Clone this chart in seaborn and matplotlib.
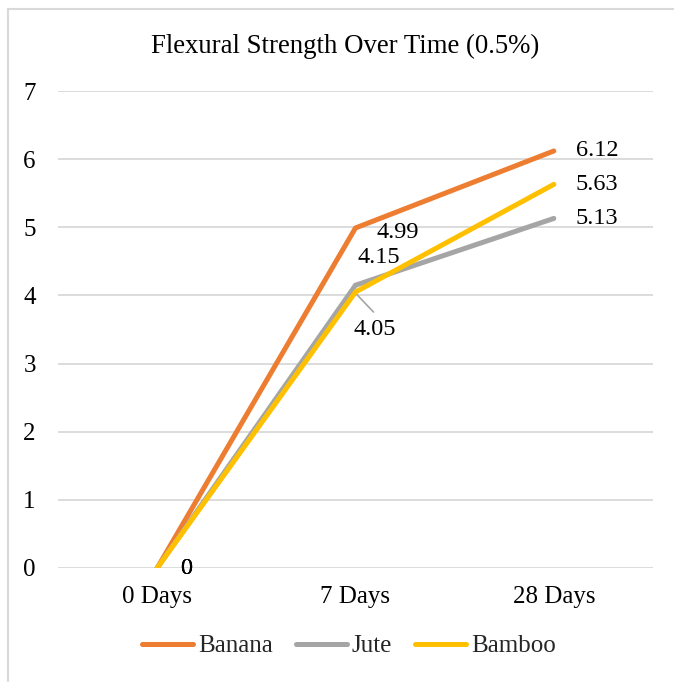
import matplotlib
matplotlib.use("Agg")
import matplotlib.pyplot as plt
import matplotlib.transforms as mtransforms
from matplotlib.lines import Line2D
import seaborn as sns
import pandas as pd

# Chart data
days = ["0 Days", "7 Days", "28 Days"]
banana = [0, 4.99, 6.12]
jute = [0, 4.15, 5.13]
bamboo = [0, 4.05, 5.63]
series_names = ["Banana", "Jute", "Bamboo"]
colors = ["#ED7D31", "#A5A5A5", "#FFC000"]
y_ticks = [0, 1, 2, 3, 4, 5, 6, 7]

df = pd.DataFrame({
    "Age": days * 3,
    "Strength": banana + jute + bamboo,
    "Fibre": [n for n in series_names for _ in days],
})

sns.set_theme(style="white")
plt.rcParams["font.family"] = ["Liberation Serif", "DejaVu Serif"]

W, H = 674, 682
fig = plt.figure(figsize=(W / 100, H / 100), dpi=100)
ax = fig.add_axes([58 / W, 1 - 568 / H, (653 - 58) / W, (568 - 91) / H])

sns.lineplot(data=df, x="Age", y="Strength", hue="Fibre", hue_order=series_names,
             palette=colors, sort=False, linewidth=3.6, ax=ax, legend=False,
             solid_capstyle="round", solid_joinstyle="miter")

ax.set_xlim(-0.5, 2.5)
ax.set_ylim(0, 7)
ax.set_yticks(y_ticks)
ax.set_yticklabels([str(t) for t in y_ticks])
ax.set_xlabel("")
ax.set_ylabel("")
for s in ax.spines.values():
    s.set_visible(False)
ax.yaxis.grid(True, color="#D9D9D9", linewidth=1.3)
ax.set_axisbelow(True)
for ln in ax.get_lines():
    ln.set_zorder(3)
ax.tick_params(axis="both", length=0, labelsize=18, colors="black")
ax.tick_params(axis="y", pad=16)
ax.tick_params(axis="x", pad=13)

fig.text(345 / W, 1 - 46 / H, "Flexural Strength Over Time (0.5%)", ha="center",
         va="center", fontsize=19.3, color="black")


def label(x, y, text, dx, dy, ha="left", va="center"):
    """Place a value label at a pixel offset from a data point."""
    tr = mtransforms.offset_copy(ax.transData, fig=fig, x=dx, y=dy, units="dots")
    ax.text(x, y, text, transform=tr, ha=ha, va=va, fontsize=17.5,
            color="black", zorder=5)


# value labels at 0 days
for vals in (banana, jute, bamboo):
    label(0, vals[0], f"{vals[0]:g}", 23, -1)

# value labels at 7 days
label(1, banana[1], f"{banana[1]:.2f}", 21, -5)
label(1, jute[1], f"{jute[1]:.2f}", 2, 28)
label(1, bamboo[1], f"{bamboo[1]:.2f}", -2, -27, va="top")
p0 = ax.transData.transform((1, bamboo[1]))
ax.add_line(Line2D([p0[0] - 2, p0[0] + 18], [p0[1] + 1, p0[1] - 20],
                   transform=None, color="#A5A5A5", linewidth=1.2, zorder=2))

# value labels at 28 days
for vals in (banana, jute, bamboo):
    label(2, vals[2], f"{vals[2]:.2f}", 22, 0)

handles = [Line2D([], [], color=c, linewidth=3.6, solid_capstyle="round")
           for c in colors]
fig.legend(handles, series_names, loc="center", bbox_to_anchor=(349 / W, 1 - 646 / H),
           ncol=3, frameon=False, fontsize=18, handlelength=2.05,
           handletextpad=0.2, columnspacing=0.9)

# Chart area border (top and left edges)
fig.add_artist(Line2D([7.5 / W, 1], [1 - 8.5 / H, 1 - 8.5 / H],
                      transform=fig.transFigure, color="#D9D9D9", linewidth=1.5))
fig.add_artist(Line2D([7.5 / W, 7.5 / W], [0, 1 - 8.5 / H],
                      transform=fig.transFigure, color="#D9D9D9", linewidth=1.5))

fig.savefig("out.png", dpi=100, facecolor="white")
